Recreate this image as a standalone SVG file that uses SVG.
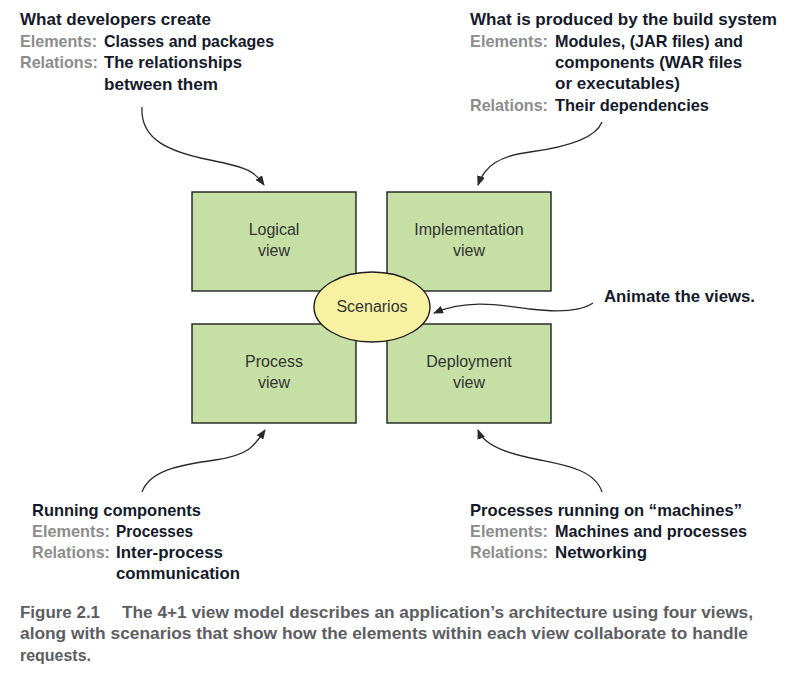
<svg xmlns="http://www.w3.org/2000/svg" width="794" height="678" viewBox="0 0 794 678">
<defs>
<marker id="ah" markerWidth="10" markerHeight="8" refX="9" refY="4" orient="auto" markerUnits="userSpaceOnUse">
<path d="M0,0 L10,4 L0,8 Z" fill="#2a2a2a"/>
</marker>
<style>
.box{fill:#c5dfa5;stroke:#1e1e1e;stroke-width:1.4}
.ell{fill:#f8f1a2;stroke:#1e1e1e;stroke-width:1.4}
.bt{font-family:"Liberation Sans",Arial,sans-serif;font-size:16px;fill:#333;text-anchor:middle}
.lb{font-family:"Liberation Sans",Arial,sans-serif;font-size:17px;font-weight:bold;fill:#151a2a}
.lg{font-family:"Liberation Sans",Arial,sans-serif;font-size:17px;font-weight:bold;fill:#8c8c8c}
.cap{font-family:"Liberation Sans",Arial,sans-serif;font-size:16px;font-weight:bold;fill:#5c5d62}
.conn{fill:none;stroke:#2a2a2a;stroke-width:1.3;marker-end:url(#ah)}
</style>
</defs>
<rect width="794" height="678" fill="#ffffff"/>

<g id="connectors">
<path class="conn" d="M142,107 C140,140 170,152 210,160 S255,172 264,185"/>
<path class="conn" d="M602,122 C595,140 560,148 530,152 S485,165 478,185"/>
<path class="conn" d="M142,492 C150,470 180,465 215,460 S255,445 265,430"/>
<path class="conn" d="M602,492 C595,470 565,465 540,460 S485,448 478,430"/>
<path class="conn" d="M593,303 C580,312 555,312 530,309 S470,298 434,313"/>
</g>

<g id="logical-view">
<rect class="box" x="192" y="192" width="164" height="99"/>
<text class="bt" x="274" y="235">Logical</text>
<text class="bt" x="274" y="256">view</text>
</g>
<g id="implementation-view">
<rect class="box" x="387" y="192" width="164" height="99"/>
<text class="bt" x="469" y="235">Implementation</text>
<text class="bt" x="469" y="256">view</text>
</g>
<g id="process-view">
<rect class="box" x="192" y="324" width="164" height="99"/>
<text class="bt" x="274" y="367">Process</text>
<text class="bt" x="274" y="388">view</text>
</g>
<g id="deployment-view">
<rect class="box" x="387" y="324" width="164" height="99"/>
<text class="bt" x="469" y="367">Deployment</text>
<text class="bt" x="469" y="388">view</text>
</g>
<g id="scenarios">
<ellipse class="ell" cx="372" cy="307" rx="58" ry="35"/>
<text class="bt" x="372" y="312">Scenarios</text>
</g>

<g id="note-logical">
<text class="lb" x="20" y="25" textLength="191" lengthAdjust="spacingAndGlyphs">What developers create</text>
<text class="lg" x="20" y="47" textLength="77" lengthAdjust="spacingAndGlyphs">Elements:</text>
<text class="lb" x="104" y="47" textLength="170" lengthAdjust="spacingAndGlyphs">Classes and packages</text>
<text class="lg" x="20" y="68" textLength="78" lengthAdjust="spacingAndGlyphs">Relations:</text>
<text class="lb" x="104" y="68" textLength="138" lengthAdjust="spacingAndGlyphs">The relationships</text>
<text class="lb" x="104" y="90" textLength="114" lengthAdjust="spacingAndGlyphs">between them</text>
</g>

<g id="note-implementation">
<text class="lb" x="470" y="25" textLength="307" lengthAdjust="spacingAndGlyphs">What is produced by the build system</text>
<text class="lg" x="470" y="47" textLength="78" lengthAdjust="spacingAndGlyphs">Elements:</text>
<text class="lb" x="555" y="47" textLength="188" lengthAdjust="spacingAndGlyphs">Modules, (JAR files) and</text>
<text class="lb" x="555" y="68" textLength="187" lengthAdjust="spacingAndGlyphs">components (WAR files</text>
<text class="lb" x="555" y="89" textLength="125" lengthAdjust="spacingAndGlyphs">or executables)</text>
<text class="lg" x="470" y="111" textLength="78" lengthAdjust="spacingAndGlyphs">Relations:</text>
<text class="lb" x="555" y="111" textLength="154" lengthAdjust="spacingAndGlyphs">Their dependencies</text>
</g>

<g id="note-scenarios">
<text class="lb" x="604" y="302" textLength="151" lengthAdjust="spacingAndGlyphs">Animate the views.</text>
</g>

<g id="note-process">
<text class="lb" x="32" y="516" textLength="169" lengthAdjust="spacingAndGlyphs">Running components</text>
<text class="lg" x="32" y="537" textLength="78" lengthAdjust="spacingAndGlyphs">Elements:</text>
<text class="lb" x="116" y="537" textLength="77" lengthAdjust="spacingAndGlyphs">Processes</text>
<text class="lg" x="32" y="558" textLength="78" lengthAdjust="spacingAndGlyphs">Relations:</text>
<text class="lb" x="116" y="558" textLength="107" lengthAdjust="spacingAndGlyphs">Inter-process</text>
<text class="lb" x="116" y="579" textLength="124" lengthAdjust="spacingAndGlyphs">communication</text>
</g>

<g id="note-deployment">
<text class="lb" x="470" y="516" textLength="272" lengthAdjust="spacingAndGlyphs">Processes running on “machines”</text>
<text class="lg" x="470" y="537" textLength="78" lengthAdjust="spacingAndGlyphs">Elements:</text>
<text class="lb" x="555" y="537" textLength="192" lengthAdjust="spacingAndGlyphs">Machines and processes</text>
<text class="lg" x="470" y="558" textLength="78" lengthAdjust="spacingAndGlyphs">Relations:</text>
<text class="lb" x="555" y="558" textLength="92" lengthAdjust="spacingAndGlyphs">Networking</text>
</g>

<g id="caption">
<text class="cap" x="20" y="618" textLength="80" lengthAdjust="spacingAndGlyphs">Figure 2.1</text>
<text class="cap" x="122" y="618" textLength="631" lengthAdjust="spacingAndGlyphs">The 4+1 view model describes an application’s architecture using four views,</text>
<text class="cap" x="20" y="639" textLength="728" lengthAdjust="spacingAndGlyphs">along with scenarios that show how the elements within each view collaborate to handle</text>
<text class="cap" x="20" y="661" textLength="71" lengthAdjust="spacingAndGlyphs">requests.</text>
</g>
</svg>
